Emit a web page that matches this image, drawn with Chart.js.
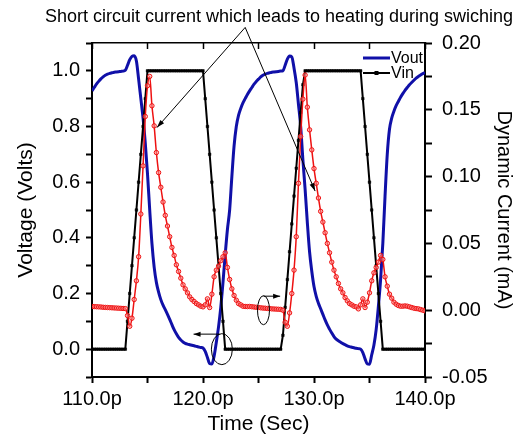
<!DOCTYPE html>
<html>
<head>
<meta charset="utf-8">
<script src="https://cdn.jsdelivr.net/npm/chart.js@4.4.1/dist/chart.umd.min.js"></script>
<style>
  html, body { margin: 0; padding: 0; background: #fff; }
  #wrap { width: 525px; height: 442px; }
</style>
</head>
<body>
<div id="wrap"><canvas id="chart" width="525" height="442"></canvas></div>
<script>
// Inverter transient: Vout / Vin on the left axis, dynamic current on the right.
// One sample every 0.2 ps.

const FONT = '"Liberation Sans", Arial, sans-serif';

const timePs = [
  110.0, 110.2, 110.4, 110.6, 110.8, 111.0, 111.2, 111.4, 111.6, 111.8,
  112.0, 112.2, 112.4, 112.6, 112.8, 113.0, 113.2, 113.4, 113.6, 113.8,
  114.0, 114.2, 114.4, 114.6, 114.8, 115.0, 115.2, 115.4, 115.6, 115.8,
  116.0, 116.2, 116.4, 116.6, 116.8, 117.0, 117.2, 117.4, 117.6, 117.8,
  118.0, 118.2, 118.4, 118.6, 118.8, 119.0, 119.2, 119.4, 119.6, 119.8,
  120.0, 120.2, 120.4, 120.6, 120.8, 121.0, 121.2, 121.4, 121.6, 121.8,
  122.0, 122.2, 122.4, 122.6, 122.8, 123.0, 123.2, 123.4, 123.6, 123.8,
  124.0, 124.2, 124.4, 124.6, 124.8, 125.0, 125.2, 125.4, 125.6, 125.8,
  126.0, 126.2, 126.4, 126.6, 126.8, 127.0, 127.2, 127.4, 127.6, 127.8,
  128.0, 128.2, 128.4, 128.6, 128.8, 129.0, 129.2, 129.4, 129.6, 129.8,
  130.0, 130.2, 130.4, 130.6, 130.8, 131.0, 131.2, 131.4, 131.6, 131.8,
  132.0, 132.2, 132.4, 132.6, 132.8, 133.0, 133.2, 133.4, 133.6, 133.8,
  134.0, 134.2, 134.4, 134.6, 134.8, 135.0, 135.2, 135.4, 135.6, 135.8,
  136.0, 136.2, 136.4, 136.6, 136.8, 137.0, 137.2, 137.4, 137.6, 137.8,
  138.0, 138.2, 138.4, 138.6, 138.8, 139.0, 139.2, 139.4, 139.6, 139.8,
  140.0
];

// Vout (V)
const vout = [
  0.928, 0.94, 0.952, 0.962, 0.971, 0.978, 0.984, 0.988, 0.991, 0.993,
  0.995, 0.996, 0.997, 0.998, 0.999, 1.002, 1.02, 1.04, 1.052, 1.054,
  1.035, 0.97, 0.9, 0.83, 0.74, 0.63, 0.5, 0.38, 0.295, 0.24,
  0.205, 0.178, 0.158, 0.142, 0.125, 0.107, 0.088, 0.07, 0.055, 0.042,
  0.033, 0.026, 0.021, 0.018, 0.016, 0.014, 0.012, 0.01, 0.008, 0.006,
  0.004, -0.008, -0.03, -0.052, -0.053, -0.025, 0.025, 0.08, 0.15, 0.24,
  0.34, 0.43, 0.5, 0.62, 0.73, 0.8, 0.84, 0.865, 0.885, 0.9,
  0.915, 0.928, 0.94, 0.952, 0.962, 0.97, 0.978, 0.984, 0.988, 0.991,
  0.993, 0.995, 0.996, 0.997, 0.998, 0.999, 1.0, 1.02, 1.042, 1.053,
  1.05, 1.01, 0.958, 0.88, 0.8, 0.68, 0.574, 0.455, 0.35, 0.28,
  0.225, 0.19, 0.165, 0.145, 0.125, 0.105, 0.087, 0.072, 0.058, 0.045,
  0.036, 0.03, 0.025, 0.02, 0.016, 0.012, 0.009, 0.007, 0.005, 0.003,
  0.002, 0.0, -0.012, -0.035, -0.053, -0.054, -0.02, 0.015, 0.07, 0.154,
  0.25, 0.38, 0.55, 0.7, 0.79, 0.83, 0.855, 0.875, 0.89, 0.905,
  0.918, 0.93, 0.94, 0.95, 0.958, 0.966, 0.974, 0.98, 0.985, 0.99,
  0.994
];

// Vin (V)
const vin = [
  0, 0, 0, 0, 0, 0, 0, 0, 0, 0,
  0, 0, 0, 0, 0, 0, 0.1, 0.2, 0.3, 0.4,
  0.5, 0.6, 0.7, 0.8, 0.9, 1, 1, 1, 1, 1,
  1, 1, 1, 1, 1, 1, 1, 1, 1, 1,
  1, 1, 1, 1, 1, 1, 1, 1, 1, 1,
  1, 0.9, 0.8, 0.7, 0.6, 0.5, 0.4, 0.3, 0.2, 0.1,
  0, 0, 0, 0, 0, 0, 0, 0, 0, 0,
  0, 0, 0, 0, 0, 0, 0, 0, 0, 0,
  0, 0, 0, 0, 0, 0, 0.05, 0.15, 0.25, 0.35,
  0.45, 0.55, 0.65, 0.75, 0.85, 0.95, 1, 1, 1, 1,
  1, 1, 1, 1, 1, 1, 1, 1, 1, 1,
  1, 1, 1, 1, 1, 1, 1, 1, 1, 1,
  1, 1, 0.9, 0.8, 0.7, 0.6, 0.5, 0.4, 0.3, 0.2,
  0.1, 0, 0, 0, 0, 0, 0, 0, 0, 0,
  0, 0, 0, 0, 0, 0, 0, 0, 0, 0,
  0
];

// Dynamic current (mA)
const currentMa = [
  0.0028, 0.0027, 0.0026, 0.0025, 0.0024, 0.0022, 0.0021, 0.002, 0.0019, 0.0018,
  0.0017, 0.0016, 0.0015, 0.0014, 0.0013, 0.0012, -0.004, -0.012, -0.006, 0.008,
  0.022, 0.04, 0.072, 0.108, 0.145, 0.168, 0.175, 0.153, 0.138, 0.118,
  0.103, 0.092, 0.081, 0.071, 0.063, 0.055, 0.047, 0.041, 0.034, 0.029,
  0.024, 0.019, 0.016, 0.013, 0.01, 0.008, 0.0065, 0.005, 0.004, 0.003,
  0.0025, 0.004, 0.0085, 0.002, 0.012, 0.025, 0.03, 0.033, 0.037, 0.04,
  0.043, 0.032, 0.023, 0.016, 0.011, 0.0075, 0.005, 0.004, 0.003, 0.0028,
  0.0027, 0.0028, 0.0026, 0.0024, 0.0022, 0.002, 0.0018, 0.0016, 0.0015, 0.0013,
  0.0012, 0.001, 0.0009, 0.0008, 0.0007, 0.0006, 0.0, -0.009, -0.012, -0.002,
  0.0125, 0.03, 0.055, 0.095, 0.13, 0.158, 0.176, 0.152, 0.135, 0.12,
  0.106, 0.095, 0.084, 0.074, 0.066, 0.058, 0.05, 0.043, 0.036, 0.03,
  0.025, 0.02, 0.016, 0.013, 0.0095, 0.007, 0.005, 0.004, 0.003, 0.0025,
  0.001, 0.004, 0.0085, 0.002, 0.006, 0.013, 0.022, 0.028, 0.032, 0.036,
  0.041, 0.038, 0.025, 0.018, 0.012, 0.009, 0.006, 0.0045, 0.0035, 0.003,
  0.003, 0.0032, 0.003, 0.0025, 0.002, 0.0015, 0.0012, 0.001, 0.0005, 0.0,
  -0.0005
];

const timeTicks  = [110, 115, 120, 125, 130, 135, 140];
const timeLabels = ['110.0p', '', '120.0p', '', '130.0p', '', '140.0p'];
const voltTicks  = [-0.1, 0, 0.1, 0.2, 0.3, 0.4, 0.5, 0.6, 0.7, 0.8, 0.9, 1.0, 1.1];
const voltLabels = ['', '0.0', '', '0.2', '', '0.4', '', '0.6', '', '0.8', '', '1.0', ''];
const currTicks  = [-0.05, -0.025, 0, 0.025, 0.05, 0.075, 0.1, 0.125, 0.15, 0.175, 0.2];
const currLabels = ['-0.05', '', '0.00', '', '0.05', '', '0.10', '', '0.15', '', '0.20'];

const seriesNames = ['Vout', 'Vin', 'Dynamic Current'];
const noteText = 'Short circuit current which leads to heating during swiching';

// annotation anchors, in axis units (time ps, volts / mA)
const noteApex    = { x: 123.8, y: 1.156 };
const noteTargets = [{ x: 115.85, y: 0.796 }, { x: 130.1, y: 0.568 }];
const voltMark    = { x: 121.7, y: 0.0, arrowY: 0.054, arrowFrom: 121.5, arrowTo: 119.15 };
const currMark    = { x: 125.45, y: 0.0, arrowY: 0.0105, arrowFrom: 125.45, arrowTo: 126.95 };

const BLUE = '#1010a8';
const RED  = '#ee1111';

// ── helpers ────────────────────────────────────────────────────────────────
const toPoints = vals => timePs.map((t, i) => ({ x: t, y: vals[i] }));

function arrow(ctx, x1, y1, x2, y2, len, half) {
  const a = Math.atan2(y2 - y1, x2 - x1);
  ctx.beginPath();
  ctx.moveTo(x1, y1);
  ctx.lineTo(x2, y2);
  ctx.stroke();
  const bx = x2 - len * Math.cos(a), by = y2 - len * Math.sin(a);
  ctx.beginPath();
  ctx.moveTo(x2, y2);
  ctx.lineTo(bx + half * Math.sin(a), by - half * Math.cos(a));
  ctx.lineTo(bx - half * Math.sin(a), by + half * Math.cos(a));
  ctx.closePath();
  ctx.fill();
}

// ── legend inside the plot, top right ──────────────────────────────────────
const insideLegend = {
  id: 'insideLegend',
  beforeDatasetsDraw(chart) {
    const { ctx, chartArea } = chart;
    const x0 = chartArea.right - 62, x1 = chartArea.right - 35;
    const rows = [chartArea.top + 15, chartArea.top + 30];
    ctx.save();
    ctx.font = `16px ${FONT}`;
    ctx.textBaseline = 'middle';
    ctx.textAlign = 'left';
    ctx.fillStyle = '#000';
    chart.data.datasets.slice(0, 2).forEach((ds, i) => {
      ctx.strokeStyle = ds.borderColor;
      ctx.lineWidth = ds.borderWidth;
      ctx.beginPath();
      ctx.moveTo(x0, rows[i]);
      ctx.lineTo(x1, rows[i]);
      ctx.stroke();
      if (ds.pointStyle === 'rect') {
        ctx.fillStyle = ds.borderColor;
        ctx.fillRect((x0 + x1) / 2 - 2, rows[i] - 2, 4, 4);
        ctx.fillStyle = '#000';
      }
      ctx.fillText(seriesNames[i], x1 + 1, rows[i] + 1);
    });
    ctx.restore();
  }
};

// ── caption, pointer arrows and axis-marker ellipses ───────────────────────
const annotations = {
  id: 'annotations',
  afterDatasetsDraw(chart) {
    const { ctx, scales: { x, y, y2 } } = chart;
    ctx.save();
    ctx.fillStyle = '#000';
    ctx.strokeStyle = '#000';
    ctx.font = `18px ${FONT}`;
    ctx.textAlign = 'center';
    ctx.textBaseline = 'alphabetic';
    ctx.fillText(noteText, 279, 22);

    ctx.lineWidth = 1;
    const ax = x.getPixelForValue(noteApex.x), ay = y.getPixelForValue(noteApex.y);
    noteTargets.forEach(p => {
      arrow(ctx, ax, ay, x.getPixelForValue(p.x), y.getPixelForValue(p.y), 8, 2.5);
    });

    // ellipse on Vout -> points to the left axis
    ctx.beginPath();
    ctx.ellipse(x.getPixelForValue(voltMark.x), y.getPixelForValue(voltMark.y), 10.5, 15.5, 0, 0, Math.PI * 2);
    ctx.stroke();
    const vy = y.getPixelForValue(voltMark.arrowY);
    arrow(ctx, x.getPixelForValue(voltMark.arrowFrom), vy, x.getPixelForValue(voltMark.arrowTo), vy, 7, 2.5);

    // ellipse on current -> points to the right axis
    ctx.beginPath();
    ctx.ellipse(x.getPixelForValue(currMark.x), y2.getPixelForValue(currMark.y), 6, 14.5, 0, 0, Math.PI * 2);
    ctx.stroke();
    const cy = y2.getPixelForValue(currMark.arrowY);
    arrow(ctx, x.getPixelForValue(currMark.arrowFrom), cy, x.getPixelForValue(currMark.arrowTo), cy, 7, 2.5);
    ctx.restore();
  }
};

// ── chart ──────────────────────────────────────────────────────────────────
const tickFont = { family: FONT, size: 20 };
const titleFont = { family: FONT, size: 21 };
const setTicks = list => s => { s.ticks = list.map(v => ({ value: v })); };

new Chart(document.getElementById('chart'), {
  type: 'line',
  data: {
    datasets: [
      {
        label: seriesNames[0],
        data: toPoints(vout),
        yAxisID: 'y',
        borderColor: BLUE,
        borderWidth: 3,
        pointRadius: 0,
        cubicInterpolationMode: 'monotone',
        order: 3
      },
      {
        label: seriesNames[1],
        data: toPoints(vin),
        yAxisID: 'y',
        borderColor: '#000',
        borderWidth: 2,
        pointStyle: 'rect',
        pointRadius: 1.8,
        pointBorderWidth: 0.5,
        pointBorderColor: '#000',
        pointBackgroundColor: '#000',
        tension: 0,
        order: 2
      },
      {
        label: seriesNames[2],
        data: toPoints(currentMa),
        yAxisID: 'y2',
        borderColor: RED,
        borderWidth: 1.5,
        pointRadius: 2.2,
        pointBorderWidth: 1,
        pointBorderColor: RED,
        pointBackgroundColor: 'rgba(255,150,150,0.5)',
        cubicInterpolationMode: 'monotone',
        order: 1
      }
    ]
  },
  options: {
    responsive: false,
    devicePixelRatio: 1,
    animation: false,
    events: [],
    layout: { padding: 0 },
    plugins: {
      legend: { display: false },
      tooltip: { enabled: false },
      title: { display: false }
    },
    scales: {
      x: {
        type: 'linear',
        position: 'bottom',
        min: 110,
        max: 140,
        afterBuildTicks: setTicks(timeTicks),
        afterFit: s => { s.height = 65; },
        ticks: {
          autoSkip: false,
          maxRotation: 0,
          color: '#000',
          font: tickFont,
          padding: 4,
          callback: (v, i) => timeLabels[i]
        },
        grid: { drawOnChartArea: false, tickLength: 6, tickColor: '#000', tickWidth: 2 },
        border: { color: '#000', width: 2 },
        title: {
          display: true,
          text: 'Time (Sec)',
          color: '#000',
          font: titleFont,
          padding: { top: 0, bottom: 5 }
        }
      },
      xTop: {
        type: 'linear',
        position: 'top',
        min: 110,
        max: 140,
        afterBuildTicks: setTicks(timeTicks),
        afterFit: s => { s.height = 43; },
        ticks: { display: false },
        grid: { drawOnChartArea: false, tickLength: -6, tickColor: '#000', tickWidth: 1.5 },
        border: { color: '#000', width: 1.5 }
      },
      y: {
        type: 'linear',
        position: 'left',
        min: -0.1,
        max: 1.1,
        afterBuildTicks: setTicks(voltTicks),
        afterFit: s => { s.width = 92; },
        ticks: {
          autoSkip: false,
          color: '#000',
          font: tickFont,
          padding: 6,
          callback: (v, i) => voltLabels[i]
        },
        grid: { drawOnChartArea: false, tickLength: 6, tickColor: '#000', tickWidth: 2 },
        border: { color: '#000', width: 2 },
        title: {
          display: true,
          text: 'Voltage (Volts)',
          color: '#000',
          font: titleFont,
          padding: { top: 14, bottom: 0 }
        }
      },
      y2: {
        type: 'linear',
        position: 'right',
        min: -0.05,
        max: 0.2,
        afterBuildTicks: setTicks(currTicks),
        afterFit: s => { s.width = 100; },
        ticks: {
          autoSkip: false,
          color: '#000',
          font: tickFont,
          padding: 10,
          callback: (v, i) => currLabels[i]
        },
        grid: { drawOnChartArea: false, tickLength: 7, tickColor: '#000', tickWidth: 2 },
        border: { color: '#000', width: 2 },
        title: {
          display: true,
          text: 'Dynamic Current (mA)',
          color: '#000',
          font: { family: FONT, size: 20 },
          padding: { top: 9, bottom: 0 }
        }
      }
    }
  },
  plugins: [insideLegend, annotations]
});
</script>
</body>
</html>
